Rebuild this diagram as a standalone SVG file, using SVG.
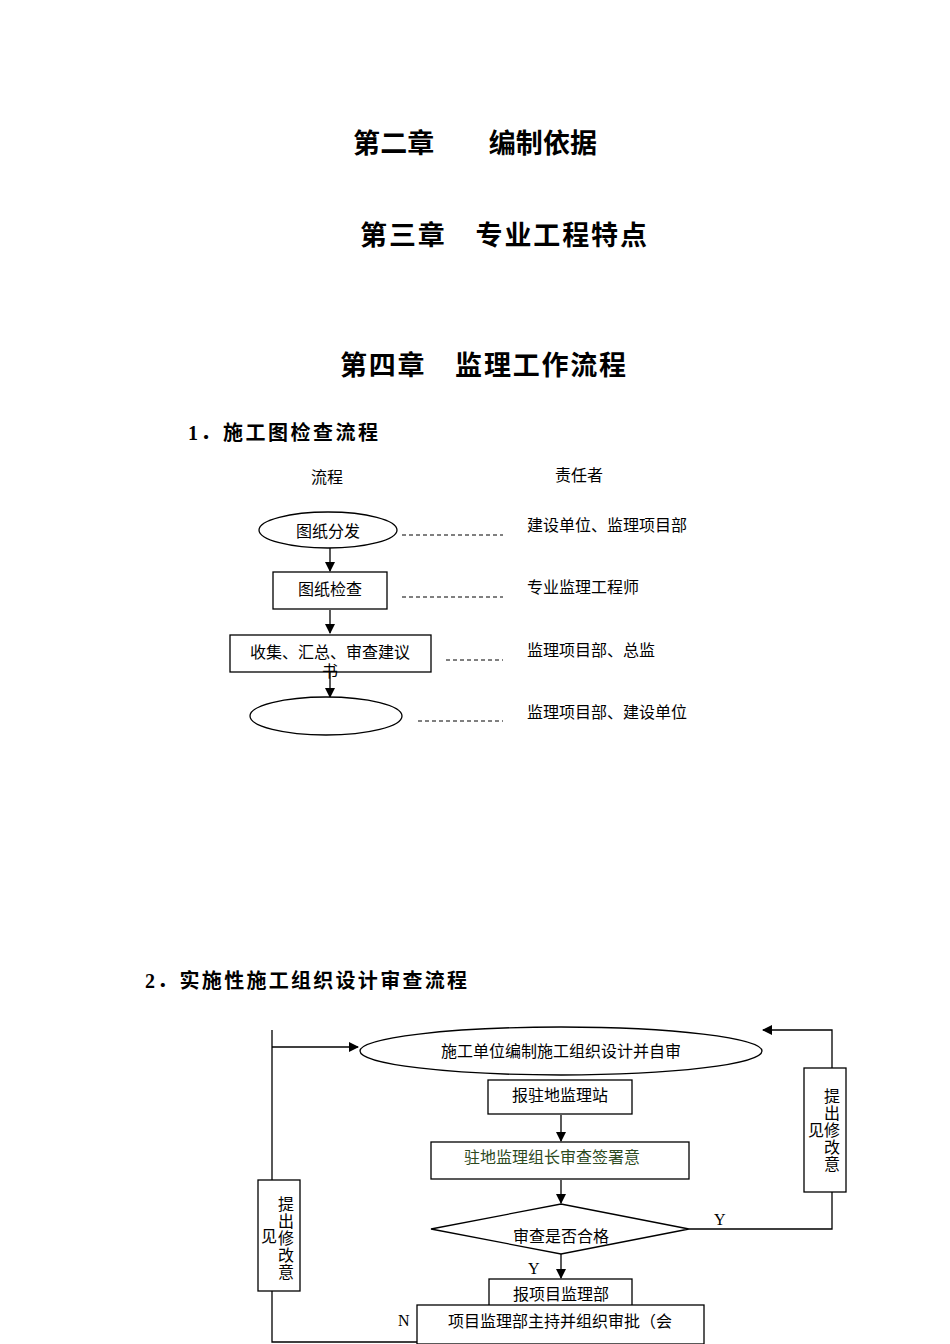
<svg xmlns="http://www.w3.org/2000/svg" width="950" height="1344" viewBox="0 0 950 1344">
<defs><marker id="a" markerWidth="10" markerHeight="10" refX="9" refY="5" orient="auto" markerUnits="userSpaceOnUse"><path d="M0,0 L10,5 L0,10 z" fill="#000"/></marker></defs>
<style>
text{font-family:"Liberation Serif","Noto Sans CJK SC",serif;fill:#000}
.h{font-size:27px;font-weight:bold}
.s{font-size:20px;font-weight:bold}
.t{font-size:16px}
.n{fill:#fff;stroke:#000;stroke-width:1.3}
.l{stroke:#000;stroke-width:1.3;fill:none}
.d{stroke:#000;stroke-width:1;stroke-dasharray:4,3}
</style>
<rect width="950" height="1344" fill="#fff"/>
<text class="h" x="353" y="153" textLength="244" lengthAdjust="spacing">第二章　　编制依据</text>
<text class="h" x="360" y="245" textLength="287" lengthAdjust="spacing">第三章　专业工程特点</text>
<text class="h" x="340" y="375" textLength="286" lengthAdjust="spacing">第四章　监理工作流程</text>
<text class="s" x="188" y="440" textLength="190" lengthAdjust="spacing">1．施工图检查流程</text>
<text class="t" x="311" y="483">流程</text>
<text class="t" x="555" y="481">责任者</text>
<g id="connectors1">
<line class="l" x1="330" y1="548" x2="330" y2="571" marker-end="url(#a)"/>
<line class="l" x1="330" y1="610" x2="330" y2="633" marker-end="url(#a)"/>
<line class="l" x1="330" y1="672" x2="330" y2="697" marker-end="url(#a)"/>
<line class="d" x1="402" y1="535" x2="503" y2="535"/>
<line class="d" x1="402" y1="597" x2="503" y2="597"/>
<line class="d" x1="446" y1="660" x2="503" y2="660"/>
<line class="d" x1="418" y1="721" x2="503" y2="721"/>
</g>
<g id="n1"><ellipse class="n" cx="328" cy="530" rx="69" ry="18"/><text class="t" x="328" y="537" text-anchor="middle">图纸分发</text></g>
<g id="n2"><rect class="n" x="273" y="572" width="114" height="37"/><text class="t" x="330" y="595" text-anchor="middle">图纸检查</text></g>
<g id="n3"><rect class="n" x="230" y="635" width="201" height="37"/><text class="t" x="330" y="658" text-anchor="middle">收集、汇总、审查建议</text><text class="t" x="330" y="677" text-anchor="middle" font-size="13">书</text></g>
<g id="n4"><ellipse class="n" cx="326" cy="716" rx="76" ry="19"/></g>
<g id="r1"><text class="t" x="527" y="531">建设单位、监理项目部</text></g>
<g id="r2"><text class="t" x="527" y="593">专业监理工程师</text></g>
<g id="r3"><text class="t" x="527" y="656">监理项目部、总监</text></g>
<g id="r4"><text class="t" x="527" y="718">监理项目部、建设单位</text></g>
<text class="s" x="145" y="988" textLength="322" lengthAdjust="spacing">2．实施性施工组织设计审查流程</text>
<g id="connectors2">
<polyline class="l" points="272,1030 272,1342 417,1342"/>
<line class="l" x1="272" y1="1047" x2="358" y2="1047" marker-end="url(#a)"/>
<polyline class="l" points="689,1229 832,1229 832,1030 763,1030" marker-end="url(#a)"/>
<line class="l" x1="561" y1="1115" x2="561" y2="1141" marker-end="url(#a)"/>
<line class="l" x1="561" y1="1180" x2="561" y2="1203" marker-end="url(#a)"/>
<line class="l" x1="561" y1="1254" x2="561" y2="1278" marker-end="url(#a)"/>
<line class="l" x1="561" y1="1325" x2="561" y2="1344"/>
</g>
<g id="m1"><ellipse class="n" cx="561" cy="1051" rx="201" ry="24"/><text class="t" x="561" y="1057" text-anchor="middle">施工单位编制施工组织设计并自审</text></g>
<g id="m2"><rect class="n" x="488" y="1080" width="144" height="34"/><text class="t" x="560" y="1101" text-anchor="middle">报驻地监理站</text></g>
<g id="m3"><rect class="n" x="431" y="1142" width="258" height="37"/><text class="t" x="552" y="1163" text-anchor="middle" style="fill:#2d4a1e">驻地监理组长审查签署意</text></g>
<g id="m4"><polygon class="n" points="431,1229 561,1204 689,1229 561,1254"/><text class="t" x="561" y="1242" text-anchor="middle">审查是否合格</text></g>
<g id="m5"><rect class="n" x="489" y="1279" width="143" height="36"/><text class="t" x="561" y="1300" text-anchor="middle">报项目监理部</text></g>
<g id="m6"><rect class="n" x="417" y="1305" width="287" height="39"/><text class="t" x="560" y="1327" text-anchor="middle">项目监理部主持并组织审批（会</text></g>
<g id="m7"><rect class="n" x="804" y="1068" width="42" height="124"/><text class="t" x="832" y="1102" text-anchor="middle"><tspan x="832">提</tspan><tspan x="832" dy="17">出</tspan><tspan x="832" dy="17">修</tspan><tspan x="832" dy="17">改</tspan><tspan x="832" dy="17">意</tspan></text><text class="t" x="808" y="1136">见</text></g>
<g id="m8"><rect class="n" x="258" y="1180" width="42" height="111"/><text class="t" x="286" y="1210" text-anchor="middle"><tspan x="286">提</tspan><tspan x="286" dy="17">出</tspan><tspan x="286" dy="17">修</tspan><tspan x="286" dy="17">改</tspan><tspan x="286" dy="17">意</tspan></text><text class="t" x="261" y="1242">见</text></g>
<text class="t" x="714" y="1225">Y</text>
<text class="t" x="528" y="1274">Y</text>
<text class="t" x="398" y="1326">N</text>
</svg>
